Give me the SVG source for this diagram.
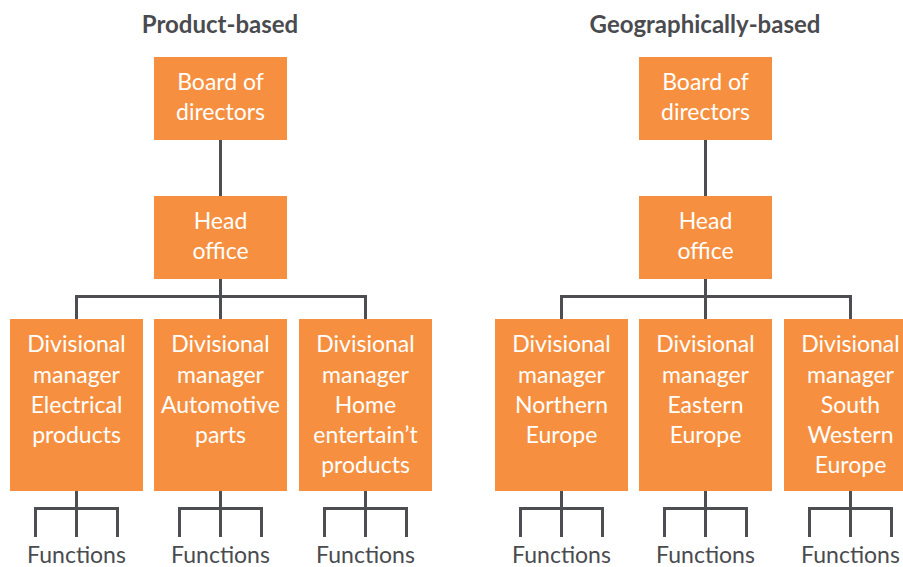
<svg xmlns="http://www.w3.org/2000/svg" width="903" height="567" viewBox="0 0 903 567">
<style>
.box{fill:#F69040}
.t{font-family:Lato,"Noto Sans",sans-serif;font-size:23px;font-weight:400;fill:#fff;text-anchor:middle}
.f{font-family:Lato,"Noto Sans",sans-serif;font-size:23px;font-weight:400;fill:#4a4b4f;text-anchor:middle}
.h{font-family:Lato,"Noto Sans",sans-serif;font-size:24px;font-weight:bold;fill:#4a4b4f;text-anchor:middle}
.c{fill:none;stroke:#4d4e52;stroke-width:3}
</style>
<rect width="903" height="567" fill="#fff"/>
<g id="connectors">
<path class="c" d="M220.5 140V196M220.5 279V319M76.5 319V296.5H365.5V319"/>
<path class="c" d="M76.5 491V537M35.5 537V508.5H117.5V537M220.5 491V537M179.5 537V508.5H261.5V537M365.5 491V537M324.5 537V508.5H406.5V537"/>
<path class="c" d="M705.5 140V196M705.5 279V319M561.5 319V296.5H850.5V319"/>
<path class="c" d="M561.5 491V537M520.5 537V508.5H602.5V537M705.5 491V537M664.5 537V508.5H746.5V537M850.5 491V537M809.5 537V508.5H891.5V537"/>
</g>
<text class="h" x="220" y="33">Product-based</text>
<text class="h" x="705" y="33">Geographically-based</text>
<g id="board1"><rect class="box" x="154" y="57" width="133" height="83"/><text class="t" x="220.5" y="90">Board of</text><text class="t" x="220.5" y="120">directors</text></g>
<g id="head1"><rect class="box" x="154" y="196" width="133" height="83"/><text class="t" x="220.5" y="229">Head</text><text class="t" x="220.5" y="259">office</text></g>
<g id="div1"><rect class="box" x="10" y="319" width="133" height="172"/><text class="t" x="76.5" y="352">Divisional</text><text class="t" x="76.5" y="383">manager</text><text class="t" x="76.5" y="413">Electrical</text><text class="t" x="76.5" y="443">products</text></g>
<g id="div2"><rect class="box" x="154" y="319" width="133" height="172"/><text class="t" x="220.5" y="352">Divisional</text><text class="t" x="220.5" y="383">manager</text><text class="t" x="220.5" y="413">Automotive</text><text class="t" x="220.5" y="443">parts</text></g>
<g id="div3"><rect class="box" x="299" y="319" width="133" height="172"/><text class="t" x="365.5" y="352">Divisional</text><text class="t" x="365.5" y="383">manager</text><text class="t" x="365.5" y="413">Home</text><text class="t" x="365.5" y="443">entertain’t</text><text class="t" x="365.5" y="473">products</text></g>
<g id="fn1"><text class="f" x="76.5" y="563">Functions</text></g>
<g id="fn2"><text class="f" x="220.5" y="563">Functions</text></g>
<g id="fn3"><text class="f" x="365.5" y="563">Functions</text></g>
<g id="board2"><rect class="box" x="639" y="57" width="133" height="83"/><text class="t" x="705.5" y="90">Board of</text><text class="t" x="705.5" y="120">directors</text></g>
<g id="head2"><rect class="box" x="639" y="196" width="133" height="83"/><text class="t" x="705.5" y="229">Head</text><text class="t" x="705.5" y="259">office</text></g>
<g id="div4"><rect class="box" x="495" y="319" width="133" height="172"/><text class="t" x="561.5" y="352">Divisional</text><text class="t" x="561.5" y="383">manager</text><text class="t" x="561.5" y="413">Northern</text><text class="t" x="561.5" y="443">Europe</text></g>
<g id="div5"><rect class="box" x="639" y="319" width="133" height="172"/><text class="t" x="705.5" y="352">Divisional</text><text class="t" x="705.5" y="383">manager</text><text class="t" x="705.5" y="413">Eastern</text><text class="t" x="705.5" y="443">Europe</text></g>
<g id="div6"><rect class="box" x="784" y="319" width="133" height="172"/><text class="t" x="850.5" y="352">Divisional</text><text class="t" x="850.5" y="383">manager</text><text class="t" x="850.5" y="413">South</text><text class="t" x="850.5" y="443">Western</text><text class="t" x="850.5" y="473">Europe</text></g>
<g id="fn4"><text class="f" x="561.5" y="563">Functions</text></g>
<g id="fn5"><text class="f" x="705.5" y="563">Functions</text></g>
<g id="fn6"><text class="f" x="850.5" y="563">Functions</text></g>
</svg>
